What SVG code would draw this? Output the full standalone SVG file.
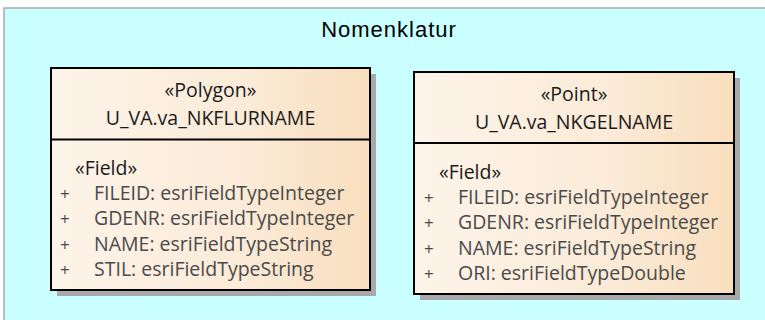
<svg xmlns="http://www.w3.org/2000/svg" width="765" height="320" viewBox="0 0 765 320">
  <defs>
    <linearGradient id="cls" x1="0" y1="0" x2="1" y2="0">
      <stop offset="0" stop-color="#FDF4E9"/>
      <stop offset="0.6" stop-color="#FBEBD8"/>
      <stop offset="1" stop-color="#F8DEBD"/>
    </linearGradient>
    <style>
      .frame { fill: #C9FFFF; stroke: #ABABAB; stroke-width: 1.5; }
      .shadow { fill: #A9A9A9; }
      .box { fill: url(#cls); stroke: #000; stroke-width: 2; }
      .div { stroke: #000; stroke-width: 2; }
      .pkg { font-family: "Liberation Sans", Arial, sans-serif; font-size: 22px; fill: #000; }
      .ttl { font-family: "Open Sans", "Noto Sans", sans-serif; font-size: 19.5px; fill: #1A1A1A; text-anchor: middle; }
      .st { font-family: "Open Sans", "Noto Sans", sans-serif; font-size: 19.5px; fill: #1A1A1A; }
      .att { font-family: "Open Sans", "Noto Sans", sans-serif; font-size: 19.5px; fill: #4A4A4A; }
      .pl { font-family: "Open Sans", "Noto Sans", sans-serif; font-size: 17px; fill: #4A4A4A; }
    </style>
  </defs>
  <rect class="frame" x="4" y="8" width="780" height="330"/>
  <text class="pkg" x="389" y="37" text-anchor="middle" letter-spacing="1">Nomenklatur</text>

  <g id="U_VA.va_NKFLURNAME">
    <rect class="shadow" x="57" y="74" width="319" height="222"/>
    <rect class="box" x="51" y="68" width="319" height="222"/>
    <line class="div" x1="51" y1="139.5" x2="370" y2="139.5"/>
    <text class="ttl" x="210.5" y="97">«Polygon»</text>
    <text class="ttl" x="210.5" y="125">U_VA.va_NKFLURNAME</text>
    <text class="st" x="75" y="175">«Field»</text>
    <text class="pl" x="60" y="200">+</text>
    <text class="att" x="94" y="200">FILEID: esriFieldTypeInteger</text>
    <text class="pl" x="60" y="225">+</text>
    <text class="att" x="94" y="225">GDENR: esriFieldTypeInteger</text>
    <text class="pl" x="60" y="250.5">+</text>
    <text class="att" x="94" y="250.5">NAME: esriFieldTypeString</text>
    <text class="pl" x="60" y="276">+</text>
    <text class="att" x="94" y="276">STIL: esriFieldTypeString</text>
  </g>

  <g id="U_VA.va_NKGELNAME">
    <rect class="shadow" x="420" y="78" width="320" height="222"/>
    <rect class="box" x="414" y="72" width="320" height="222"/>
    <line class="div" x1="414" y1="143" x2="734" y2="143"/>
    <text class="ttl" x="574" y="101">«Point»</text>
    <text class="ttl" x="574" y="129">U_VA.va_NKGELNAME</text>
    <text class="st" x="439" y="179">«Field»</text>
    <text class="pl" x="424" y="204">+</text>
    <text class="att" x="458" y="204">FILEID: esriFieldTypeInteger</text>
    <text class="pl" x="424" y="229">+</text>
    <text class="att" x="458" y="229">GDENR: esriFieldTypeInteger</text>
    <text class="pl" x="424" y="254.5">+</text>
    <text class="att" x="458" y="254.5">NAME: esriFieldTypeString</text>
    <text class="pl" x="424" y="280">+</text>
    <text class="att" x="458" y="280">ORI: esriFieldTypeDouble</text>
  </g>

  <g id="connectors"/>
</svg>
